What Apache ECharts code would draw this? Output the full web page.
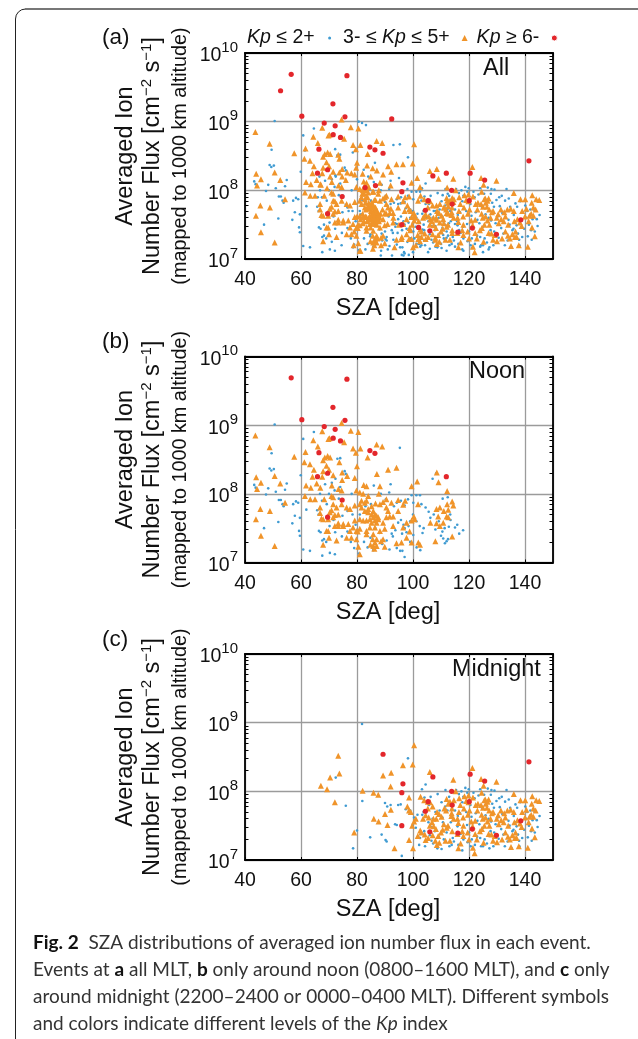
<!DOCTYPE html>
<html><head><meta charset="utf-8">
<style>html,body{margin:0;padding:0;background:#fff}#c{width:638px;height:1039px}</style>
<script src="https://cdn.jsdelivr.net/npm/echarts@6/dist/echarts.min.js"></script>
</head><body><div id="c"></div>
<script>
// Every point is [SZA in degrees, log10 of ion number flux].
const noonLow=[[50.6,9.01],[60.8,8.8],[61.4,8.58],[64.6,8.9],[49.5,8.59],[95.3,8.67],[73,8.51],[59.9,8.27],[48.8,8.37],[50.3,8.36],[49.4,8.34],[43.3,8.13],[43.8,8.09],[48.3,8.08],[47.5,7.99],[51,8.03],[54.9,8.15],[54.3,8.06],[52.1,7.91],[52.8,7.91],[53.4,7.85],[53.8,7.82],[58.2,7.89],[59,7.87],[57.2,7.85],[57.8,7.68],[56.9,7.57],[51.9,7.59],[59.6,7.65],[61.9,7.77],[46.8,7.5],[59.3,7.46],[59.6,7.39],[60.8,7.19],[63.2,7.17],[67.6,7.1],[70.3,7.14],[72.1,7.12],[66.4,7.46],[67,7.44],[67.6,7.32],[68.2,7.34],[69,7.3],[65.8,7.76],[66.3,7.7],[66.8,8.0],[68.6,8.14],[71,8.16],[72.3,8.22],[74,8.1],[75.6,8.33],[76,8.29],[74,8.52],[78.1,8.0],[72,8.05],[70,8.0],[73.5,7.93],[76.6,7.75],[74.8,7.68],[72.2,7.44],[74.6,7.38],[76.6,7.45],[77.8,7.3],[79.5,7.55],[79,7.21],[80.7,7.13],[82.5,7.3],[83.8,7.22],[84.8,7.36],[85.8,7.18],[86.5,7.5],[88,7.43],[89,7.27],[90.6,7.32],[91.6,7.19],[92.8,7.38],[93.7,7.47],[94.2,7.21],[95.4,7.17],[96.2,7.17],[97,7.08],[96.1,7.42],[97,7.5],[97.7,7.44],[98.4,7.53],[99,7.3],[100.1,7.4],[101.3,7.22],[102.6,7.18],[103.4,7.43],[102.4,7.53],[101.2,7.6],[103.8,7.5],[92,8.14],[91.5,8.02],[90.3,7.92],[93.2,7.82],[94.2,7.87],[95.7,7.9],[97,7.83],[98.2,7.92],[99.5,7.98],[100.1,7.87],[101.2,7.98],[102.5,7.98],[103,7.85],[100,7.7],[99,7.6],[95.7,7.62],[94.7,7.58],[96.6,7.55],[92.4,7.42],[104.5,7.8],[105.6,7.74],[106.2,7.65],[107.4,7.7],[108,7.48],[109.2,7.6],[110,7.39],[110.8,7.35],[111.4,7.28],[112,7.31],[112.5,7.34],[111.3,7.5],[110.5,7.45],[112.8,7.52],[113.4,7.62],[115,7.51],[115.8,7.55],[116.5,7.42],[117.9,7.47],[113.3,7.7],[112.4,7.95],[110.6,7.93],[107,8.22],[108.3,8.3],[86,8.12],[88.5,8.0],[85,7.85],[83,7.82],[81,7.7],[78.4,7.7],[69.2,7.85],[67.5,7.9],[69.4,7.65],[70.2,7.53],[71.6,7.62]];
const noonMid=[[43.7,8.85],[48.8,8.68],[57.6,8.54],[64.4,8.78],[67.6,8.91],[66,8.69],[70.2,8.81],[69.8,8.8],[74.5,9.03],[75.4,8.75],[77.8,8.92],[80.5,8.9],[78.6,8.66],[81.2,8.66],[79.6,8.6],[87,8.72],[89,8.69],[83.8,8.53],[80,8.4],[91.1,8.35],[94.1,8.38],[87.1,8.29],[79.2,8.23],[76.5,8.26],[74.7,8.31],[73.7,8.46],[70.4,8.53],[69.5,8.55],[68.5,8.53],[67.9,8.49],[61.2,8.46],[61.6,8.61],[63.2,8.43],[64.6,8.35],[69.1,8.41],[67.9,8.33],[70,8.35],[71.5,8.27],[67.6,8.25],[64.1,8.25],[44,8.24],[50.6,8.26],[45.7,8.16],[52.6,8.15],[44.3,8.07],[61.8,8.12],[65.6,8.15],[63.5,8.09],[66.9,8.09],[71,8.12],[74.7,8.2],[73.4,8.07],[79.8,8.05],[81,8.02],[82.2,8],[84,7.97],[82.4,8.13],[83.4,8.11],[88.2,8.11],[99.5,8.11],[101.5,8.18],[108.5,8.31],[109.1,8.17],[112.2,8.04],[112.2,7.85],[114,7.89],[114.4,7.83],[112.6,7.77],[109.6,7.8],[108.4,7.78],[111,7.75],[109,7.67],[112,7.67],[112.6,7.66],[110.8,7.58],[108.4,7.57],[106.2,7.58],[108,7.31],[114,7.38],[109.6,7.53],[101.8,7.85],[100.3,7.67],[100.6,7.63],[99.5,7.61],[97.7,7.58],[96.5,7.51],[99.5,7.29],[101.9,7.29],[102.5,7.26],[97.7,7.36],[95.9,7.29],[94.1,7.28],[92.9,7.53],[91.7,7.67],[92.9,7.67],[90.5,7.66],[94.7,7.75],[96.5,7.84],[94.7,7.91],[92.3,7.87],[90.5,7.92],[89.3,7.88],[88.2,7.85],[90.5,7.8],[91.1,7.75],[89.3,7.58],[89.9,7.49],[89.3,7.34],[88.6,7.31],[89.9,7.23],[87,7.34],[86.4,7.29],[85.8,7.24],[87,7.24],[80.5,7.23],[81,7.12],[78,7.36],[76.3,7.36],[72.7,7.32],[70,7.36],[69.1,7.46],[69.7,7.46],[67.9,7.26],[67.3,7.64],[66.8,7.72],[66.8,7.8],[68.3,7.92],[70.9,7.97],[71.5,7.95],[74.5,8.05],[71.5,7.85],[72.7,7.8],[70.9,7.76],[70.3,7.73],[73.3,7.7],[72.1,7.69],[74.5,7.85],[76.3,7.8],[77.5,7.78],[79.2,7.83],[81,7.85],[81.6,7.9],[83.4,7.9],[82.8,7.87],[81.6,7.8],[84,7.78],[82.8,7.75],[84,7.73],[85.8,7.75],[85.2,7.7],[86.4,7.7],[87,7.68],[85.8,7.66],[84.6,7.63],[87.6,7.66],[86.4,7.61],[85.2,7.58],[87,7.58],[87.6,7.63],[83.4,7.61],[82.2,7.61],[81,7.63],[79.2,7.61],[78.6,7.51],[76.9,7.56],[75.1,7.53],[73.3,7.53],[72.1,7.53],[73.3,7.57],[75.1,7.56],[71.5,7.66],[69.7,7.63],[67.9,7.63],[77.5,7.46],[79.8,7.46],[81,7.49],[83.4,7.46],[84.6,7.51],[86.4,7.51],[83.4,7.41],[88.2,7.46],[85.8,7.41],[79.8,7.34],[63.3,7.92],[61.4,7.97],[65,7.92],[54.3,7.87],[45.5,7.78],[48.9,7.75],[43.9,7.63],[45.7,7.39],[50.6,7.24],[87.8,8],[85.2,7.82],[86.6,7.86],[85.6,7.34],[84.8,7.26],[86.2,7.2],[80.3,7.45],[97.2,7.9],[98.8,7.45]];
const noonHigh=[[56.5,9.69],[76.4,9.67],[71.4,9.26],[60.3,9.08],[75.7,9.07],[68.3,8.98],[72.2,8.94],[71.5,8.81],[74.1,8.77],[84.6,8.63],[86.4,8.59],[66.4,8.6],[65.9,8.25],[69.5,8.3],[111.9,8.25],[74.7,7.91],[69.5,7.66]];
const midLow=[[81.8,8.98],[98.2,8.48],[72.4,8.2],[76,7.79],[81.9,7.86],[80,7.43],[78.6,7.17],[84.7,7.33],[88.8,7.37],[90.2,7.29],[90.6,7.27],[96,7.06],[90,7.83],[90.8,7.78],[92,7.8],[94.7,7.8],[95.6,7.81],[93.6,7.52],[94.2,7.51],[97.4,7.74],[98.4,7.7],[99,7.72],[100.4,7.62],[101.6,7.66],[99.8,7.5],[101.8,7.34],[102.5,7.32],[103.4,7.38],[104,7.42],[103.3,7.66],[103.8,7.7],[104.1,7.91],[103.2,8.03],[104.5,8.1],[105.5,7.55],[106,7.36],[106.7,7.48],[107,7.6],[107.8,7.42],[108.7,7.17],[109.2,7.34],[109.5,7.72],[110.5,7.62],[111,7.3],[112,7.4],[112.3,7.72],[112.9,7.92],[113.5,7.55],[114.2,7.32],[114.6,7.27],[115,7.72],[115.4,8.02],[115.9,7.49],[116.2,7.22],[116.8,7.68],[117.3,8.0],[117.6,7.84],[118,7.3],[118.7,8.05],[119.3,7.51],[119.5,7.26],[119.9,8.03],[120.5,7.8],[120.9,7.63],[121.2,7.44],[121.6,7.98],[122.1,7.22],[122.4,7.68],[122.9,7.34],[123.4,7.94],[123.7,7.52],[124.3,7.2],[124.6,7.76],[125,7.47],[125.4,7.95],[125.9,7.65],[126.4,7.24],[126.7,8.04],[127,7.6],[127.3,7.17],[127.7,7.42],[128,8.02],[128.3,7.82],[128.7,7.2],[129.1,8.01],[129.5,7.52],[129.8,7.86],[130.2,7.62],[130.6,7.31],[131,7.77],[131.5,7.45],[131.9,7.67],[132.3,7.37],[132.9,7.85],[133.4,8.02],[133.8,7.27],[134.1,7.57],[134.7,7.76],[135.2,7.17],[135.5,7.42],[136,7.64],[136.6,7.81],[137,7.49],[137.5,7.37],[137.9,7.28],[138.3,7.84],[138.8,7.56],[139.2,7.68],[139.7,7.44],[140.1,7.78],[140.5,7.6],[141,7.33],[141.4,7.5],[141.9,7.72],[142.4,7.28],[142.7,7.58],[143.5,7.4],[144.2,7.58],[145.2,7.64],[143.1,7.72],[142.2,7.42],[126,7.84],[124,7.32],[121,7.3],[119,7.7],[118,7.92],[114,7.65],[111.5,7.78],[108,7.7],[105.7,7.8],[107.2,7.24],[110.7,7.55],[113,7.2],[116,7.64],[120,7.4],[128.9,7.76],[131.7,7.92],[134.5,7.5],[136.8,7.55],[139,7.32],[112.7,7.48],[117,7.38],[123,7.57],[125.6,7.3],[127.9,7.56],[101,7.47],[104.7,7.7],[106.3,7.92],[108.8,7.96],[110.2,7.84],[111.6,8.02],[113.6,8.0],[116.4,7.96],[119.4,7.98],[122,7.9],[124,8.03],[127.8,7.95],[130.8,7.9],[134.2,7.88],[137.2,7.76],[140.8,7.7],[144.5,7.48],[138,7.2],[135.9,7.44],[132.8,7.2],[129,7.4],[125,7.2],[120.6,7.2],[117.6,7.14],[113.8,7.22],[110.2,7.16],[106.6,7.28],[104.3,7.2],[102.2,7.22]];
const midMid=[[67.1,8.08],[69.3,8.03],[70.4,8.2],[73.3,8.52],[73.7,8.26],[72.1,7.84],[82,8.01],[85.9,7.98],[87.6,7.95],[86,7.6],[87.7,7.56],[89.3,8.23],[92.2,8.27],[92,8.07],[90,7.67],[92.1,7.73],[90.9,7.51],[79,7.4],[93.4,7.17],[98.6,7.29],[100,7.17],[100.4,8.67],[99.9,8.39],[96.4,8.38],[106,8.28],[102.7,7.92],[98.6,7.91],[114.4,8.17],[121.2,8.34],[124.3,8.18],[129.8,8.14],[136,7.96],[142.6,7.93],[115.2,8],[118.4,7.93],[119.8,7.94],[121.4,7.91],[125.2,8.08],[124.5,7.98],[127,7.88],[125.8,7.88],[138.4,7.87],[140.1,7.87],[144,7.87],[145.1,7.86],[142.4,7.82],[143,7.75],[126,7.82],[123.2,7.82],[122.4,7.8],[124.3,7.8],[119.8,7.84],[112,7.89],[113.2,7.85],[112.6,7.82],[105.3,7.85],[104,7.87],[106.1,7.84],[107,7.78],[105.3,7.75],[98,7.78],[98.6,7.72],[99.2,7.7],[100.4,7.56],[101,7.6],[99.7,7.5],[102.6,7.43],[103,7.4],[104.5,7.29],[105.4,7.32],[107,7.36],[108.5,7.22],[109.4,7.25],[110,7.4],[110.2,7.63],[108.6,7.7],[109.3,7.67],[106.8,7.55],[107.3,7.6],[107.4,7.49],[108.2,7.45],[106,7.5],[111.2,7.75],[111.8,7.72],[112.5,7.5],[112,7.47],[113.7,7.64],[114.5,7.6],[116.2,7.54],[116.4,7.7],[118.2,7.75],[116.9,7.8],[117.9,7.62],[119.6,7.66],[120.8,7.56],[121.3,7.49],[119.5,7.4],[118,7.35],[115.9,7.38],[114,7.42],[113.2,7.28],[116.2,7.17],[121.4,7.18],[122,7.1],[120,7.3],[122.8,7.3],[123.9,7.42],[125.5,7.5],[125.9,7.62],[126.4,7.76],[124.9,7.6],[127.7,7.6],[128.2,7.68],[129.2,7.35],[128,7.37],[129.9,7.6],[130.4,7.65],[131.5,7.58],[132.6,7.68],[133,7.62],[134,7.5],[133,7.4],[133.9,7.34],[134.9,7.73],[136,7.7],[135.5,7.36],[136.6,7.4],[136.4,7.32],[135,7.19],[137.8,7.2],[141,7.18],[141.3,7.55],[140,7.62],[139,7.7],[140.5,7.73],[138.2,7.53],[142.5,7.46],[143.5,7.33],[143,7.63],[142.2,7.66],[113.8,7.68],[115.9,7.6],[117.6,7.42],[124.5,7.66],[123,7.72],[126.6,7.56],[119,7.86],[111,7.52],[109,7.35],[105.6,7.62],[131.4,7.72],[137.3,7.58],[130,7.26],[127,7.38],[125.2,7.25],[125.5,7.87],[126.6,7.85],[125,7.76],[127.2,7.72],[128.6,7.7],[104.5,7.65],[103.6,7.6],[108.3,7.6],[110.6,7.44],[113.9,7.75],[114.6,7.87],[116.5,7.9],[118,7.5],[120.2,7.72],[122.2,7.57],[124.6,7.45],[127.3,7.5],[130.6,7.52],[132.4,7.55],[133.7,7.72],[136.2,7.55],[138.8,7.48],[141.6,7.63],[143.8,7.72],[134.6,7.3],[137,7.32],[131.8,7.3],[128.6,7.28],[122.2,7.38],[117,7.24],[111.6,7.28],[108,7.28],[104.2,7.37],[101.7,7.35]];
const midHigh=[[89.3,8.54],[141.4,8.43],[120.4,8.25],[125.6,8.15],[107.1,8.21],[96.4,8.11],[96,7.98],[113.8,8],[105.4,7.85],[120.1,7.85],[114,7.8],[104.4,7.71],[138.5,7.57],[96,7.5],[121.2,7.45],[106,7.41],[116,7.39],[129.8,7.36]];
const otherLow=[[66,7.9],[68.2,7.5],[71,7.25],[74.5,7.2],[77,7.7],[79.5,7.42],[81.5,7.65],[83,7.14],[85,7.5],[87.5,7.63],[88.6,7.12],[91,7.14],[93,7.28],[94.5,7.38],[96.8,7.1],[98,7.25],[100.5,7.3],[103,7.2],[104.6,7.6],[106,7.15],[70,7.7],[75,7.92],[80,8.16],[84,8.2],[88.8,8.08],[91.3,7.62],[95,8.18],[98,8.02],[82.4,8.3],[86.4,8.4],[93,8.66],[66.6,8.2],[72.2,8.6],[78.5,8.55],[83.2,8.95],[80.6,9.0],[90,7.4],[92.5,7.05],[96.6,7.05],[98.5,7.06],[108,7.18],[112,7.12],[115,7.18],[118,7.12],[121,7.16],[124,7.18],[127,7.14],[104,7.27],[110,7.22],[125,7.1],[88.5,7.05],[100,7.1],[105.4,7.1]];
const otherMid=[[76,8.15],[78,8.25],[79.7,8.33],[83.6,8.36],[84.9,8.2],[85.6,8.32],[82,8.24],[82.9,8.08],[84.2,8.05],[85.6,7.98],[86.2,7.86],[82.6,7.95],[83.8,7.9],[85.6,7.8],[84.9,7.75],[86.3,7.72],[85.4,7.66],[86.9,7.63],[85.6,7.6],[84.2,7.58],[83.6,7.55],[82.5,7.55],[85.8,7.55],[86.6,7.55],[87.1,7.5],[84.9,7.46],[82.1,7.52],[80.4,7.5],[88.2,7.6],[89.1,7.72],[90,7.9],[88.6,7.2],[85.7,7.15],[86.4,7.25],[87.3,7.3],[81.2,7.12],[78.8,7.2],[93,7.6],[95,7.5],[97,7.7],[99,7.42],[102,7.55],[104,7.62],[103,7.32],[101,7.2],[96,7.32],[102.5,8.05],[84.5,7.62],[85,7.7],[86,7.68],[86.6,7.75],[87.2,7.7],[85.3,7.52],[87.8,7.55],[88.4,7.66],[83,7.62],[82,7.66],[81.3,7.58],[80,7.62],[83.2,7.72],[81.9,7.95],[82.6,8.02],[83.4,8],[84.2,7.82],[83,7.82]];
const otherHigh=[[52.7,9.45],[92.4,9.04],[86.6,8.07],[82.9,8.04],[102,7.46]];
const yMinorTicks=[2e7,3e7,4e7,5e7,6e7,7e7,8e7,9e7,2e8,3e8,4e8,5e8,6e8,7e8,8e8,9e8,2e9,3e9,4e9,5e9,6e9,7e9,8e9,9e9];
const panelLetters=['(a)','(b)','(c)'];
const panelTags=['All','Noon','Midnight'];
const legendNames=['Kp ≤ 2+','3- ≤ Kp ≤ 5+','Kp ≥ 6-'];
const captionLines=[
 '{b|Fig. 2}{r|  SZA distributions of averaged ion number flux in each event.}',
 '{r|Events at }{b|a}{r| all MLT, }{b|b}{r| only around noon (0800–1600 MLT), and }{b|c}{r| only}',
 '{r|around midnight (2200–2400 or 0000–0400 MLT). Different symbols}',
 '{r|and colors indicate different levels of the }{i|Kp}{r| index}'];

const toFlux=a=>a.map(p=>[p[0],Math.pow(10,p[1])]);
const panels=[
 [otherLow.concat(noonLow,midLow),otherMid.concat(noonMid,midMid),otherHigh.concat(noonHigh,midHigh)],
 [noonLow,noonMid,noonHigh],
 [midLow,midMid,midHigh]];
const tops=[53,356.5,654], H=206, L=245, W=308;
const SANS='"Liberation Sans",Arial,sans-serif';
const CAP='Lato';
const BLUE='#3f9bd2',ORANGE='#f0942a',RED='#e3262b';
const styles=[{symbol:'circle',size:2.6,color:BLUE},{symbol:'triangle',size:6,color:ORANGE},{symbol:'circle',size:5.2,color:RED}];

const grid=[],xAxis=[],yAxis=[],series=[],graphic=[];
const axisLine={show:true,lineStyle:{color:'#000',width:1.8}};
const yTick={show:true,inside:true,length:3.5,customValues:yMinorTicks,lineStyle:{color:'#000'}};
const minorAxis=(i,pos)=>({gridIndex:i,type:'log',logBase:10,min:1e7,max:1e10,position:pos,
  axisLine:{show:pos==='right',lineStyle:axisLine.lineStyle},axisTick:yTick,axisLabel:{show:false},splitLine:{show:false}});
tops.forEach((top,i)=>{
 grid.push({left:L,top:top,width:W,height:H,containLabel:false,z:3});
 const xb=xAxis.length,yb=yAxis.length;
 xAxis.push({gridIndex:i,type:'value',min:40,max:150,interval:20,position:'bottom',
  name:'SZA [deg]',nameLocation:'middle',nameGap:38,nameTextStyle:{fontFamily:SANS,fontSize:23.5,color:'#111',padding:[0,22,0,0]},
  axisLine,axisTick:{show:true,inside:true,length:3,lineStyle:{color:'#000'}},
  axisLabel:{margin:11,fontFamily:SANS,fontSize:19.5,color:'#111',showMaxLabel:false},
  splitLine:{show:true,lineStyle:{color:'#9b9b9b',width:1.3}}});
 xAxis.push({gridIndex:i,type:'value',min:40,max:150,interval:20,position:'top',
  axisLine,axisTick:{show:true,inside:true,length:3,lineStyle:{color:'#000'}},axisLabel:{show:false},splitLine:{show:false}});
 yAxis.push({gridIndex:i,type:'log',logBase:10,min:1e7,max:1e10,position:'left',
  name:'{n|Averaged Ion}\n{n|Number Flux [cm}{sup|−2}{n| s}{sup|−1}{n|]}\n{small|(mapped to 1000 km altitude)}',
  nameLocation:'middle',nameGap:51,nameRotate:90,
  nameTextStyle:{fontFamily:SANS,fontSize:23.5,color:'#111',lineHeight:27.5,
   rich:{n:{fontFamily:SANS,fontSize:23.5,lineHeight:27.5,color:'#111'},sup:{fontFamily:SANS,fontSize:15,verticalAlign:'top',lineHeight:27.5,color:'#111'},small:{fontFamily:SANS,fontSize:19.8,lineHeight:27.5,color:'#111'}}},
  axisLine,axisTick:{show:false},
  axisLabel:{margin:7,formatter:v=>'{b|10}{e|'+Math.round(Math.log10(v))+'}',
   rich:{b:{fontFamily:SANS,fontSize:19.5,color:'#111',padding:[6,0,0,0]},e:{fontFamily:SANS,fontSize:15,color:'#111',verticalAlign:'top',padding:[0,0,6,0]}}},
  splitLine:{show:true,lineStyle:{color:'#9b9b9b',width:1.3}}});
 yAxis.push(minorAxis(i,'right'));
 yAxis.push(minorAxis(i,'left'));
 panels[i].forEach((d,k)=>{
  series.push({name:legendNames[k],type:'scatter',xAxisIndex:xb,yAxisIndex:yb,data:toFlux(d),
   symbol:styles[k].symbol,symbolSize:styles[k].size,itemStyle:{color:styles[k].color,opacity:1},
   z:3+k,silent:true,animation:false});
 });
 graphic.push({type:'text',x:102,y:[38,342,640][i],style:{text:panelLetters[i],fontFamily:SANS,fontSize:22.5,fill:'#111',verticalAlign:'middle'}});
});
[[483,69],[469,372],[452,670]].forEach((p,i)=>graphic.push({type:'text',x:p[0],y:p[1],style:{text:panelTags[i],fontFamily:SANS,fontSize:23.5,fill:'#111',verticalAlign:'middle'}}));
// frame of the figure panel
graphic.push({type:'rect',shape:{x:15.5,y:9,width:760,height:1200,r:10},style:{fill:'none',stroke:'#222',lineWidth:1},z:-1});
graphic.push({type:'line',shape:{x1:25,y1:9,x2:638,y2:9},style:{stroke:'#777',lineWidth:2},z:-1});
// caption
captionLines.forEach((t,i)=>{
 graphic.push({type:'text',x:33,y:943+i*27,style:{verticalAlign:'middle',text:t,rich:{
   r:{fontFamily:CAP,fontSize:19,fill:'#333'},
   b:{fontFamily:CAP,fontWeight:'bold',fontSize:19,fill:'#111'},
   i:{fontFamily:CAP,fontStyle:'italic',fontSize:19,fill:'#333'}}}});
});
const chart=echarts.init(document.getElementById('c'),null,{renderer:'canvas'});
const legendRich={kp:{fontFamily:SANS,fontStyle:'italic',fontSize:19.5,color:'#111'},t:{fontFamily:SANS,fontSize:19.5,color:'#111'},p:{width:7,fontSize:19.5}};
chart.setOption({animation:false,backgroundColor:'#fff',grid,xAxis,yAxis,series,graphic,
 legend:{left:247,top:28,padding:0,itemGap:9,align:'right',selectedMode:false,itemWidth:6,itemHeight:6,
  data:[{name:legendNames[0],icon:'circle',itemStyle:{color:BLUE,borderColor:'#fff',borderWidth:3}},{name:legendNames[1],icon:'triangle',itemStyle:{color:ORANGE}},{name:legendNames[2],icon:'circle',itemStyle:{color:RED,borderColor:'#fff',borderWidth:1}}],
  textStyle:{rich:legendRich,fontFamily:SANS,fontSize:19.5,color:'#111'},
  formatter:n=>n.split('Kp').map(s=>s?'{t|'+s+'}':'').join('{kp|Kp}')+'{p| }'}
});
</script></body></html>
